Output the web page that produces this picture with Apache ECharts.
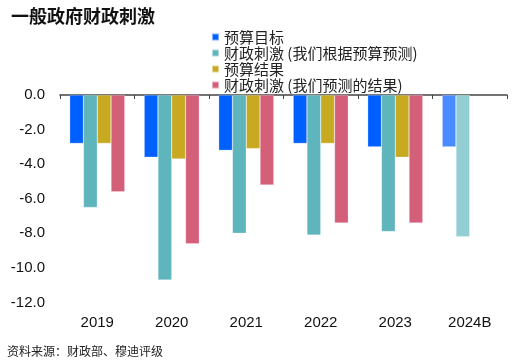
<!DOCTYPE html>
<html>
<head>
<meta charset="utf-8">
<script src="https://cdn.jsdelivr.net/npm/echarts@6/dist/echarts.min.js"></script>
<style>html,body{margin:0;padding:0;background:#fff}#c{width:515px;height:364px}</style>
</head>
<body>
<div id="c"></div>
<script>
const categories = ['2019', '2020', '2021', '2022', '2023', '2024B'];
const seriesNames = ['预算目标', '财政刺激 (我们根据预算预测)', '预算结果', '财政刺激 (我们预测的结果)'];
const budgetTarget = [-2.8, -3.6, -3.2, -2.8, -3.0, -3.0];
const stimulusBudget = [-6.5, -10.7, -8.0, -8.1, -7.9, -8.2];
const budgetOutcome = [-2.8, -3.7, -3.1, -2.8, -3.6, null];
const stimulusOutcome = [-5.6, -8.6, -5.2, -7.4, -7.4, null];
const yTicks = [0, -2, -4, -6, -8, -10, -12];

const colors = ['#0060ff', '#5eb5bc', '#c8a922', '#d35f78'];
const lastColors = ['#4a8cff', '#93cfd2', '#c8a922', '#d35f78'];
const values = [budgetTarget, stimulusBudget, budgetOutcome, stimulusOutcome];

const font = "'Liberation Sans', Arial, 'Noto Sans CJK SC', sans-serif";
const chart = echarts.init(document.getElementById('c'));
chart.setOption({
  animation: false,
  textStyle: { fontFamily: font },
  title: {
    text: '一般政府财政刺激',
    left: 6, top: 2,
    textStyle: { fontSize: 18, fontWeight: 'bold', color: '#111', fontFamily: "'Noto Sans CJK SC', sans-serif" }
  },
  graphic: [{
    type: 'text', left: 7, top: 345,
    style: { text: '资料来源：财政部、穆迪评级', font: "12px 'Noto Sans CJK SC', sans-serif", fill: '#222' }
  }],
  legend: {
    orient: 'vertical', left: 206, top: 24,
    itemWidth: 7, itemHeight: 7, itemGap: 0, itemTextGap: 4,
    icon: 'rect',
    textStyle: { fontSize: 15, lineHeight: 16, color: '#222', fontFamily: "'Noto Sans CJK SC', sans-serif" },
    data: seriesNames
  },
  grid: { left: 60, right: 8, top: 95, bottom: 61.5, containLabel: false },
  xAxis: [{
    type: 'category', data: categories, position: 'bottom',
    axisLine: { show: false }, axisTick: { show: false },
    axisLabel: { fontSize: 15, color: '#111', margin: 13 }
  }, {
    type: 'category', data: categories, position: 'top',
    axisLine: { show: true, onZero: false, lineStyle: { color: '#444', width: 1.5 } },
    axisTick: { show: true, inside: true, length: 4, lineStyle: { color: '#444' } },
    axisLabel: { show: false }
  }],
  yAxis: {
    type: 'value', min: yTicks[yTicks.length - 1], max: yTicks[0], interval: 2,
    axisLine: { show: false }, axisTick: { show: false }, splitLine: { show: false },
    axisLabel: { fontSize: 15, color: '#111', margin: 15, formatter: v => v.toFixed(1) }
  },
  series: seriesNames.map((name, i) => ({
    name, type: 'bar', xAxisIndex: 0,
    barGap: '0%', barCategoryGap: '26%',
    itemStyle: { color: colors[i], borderColor: 'rgba(255,255,255,0.5)', borderWidth: 0.5 },
    data: values[i].map((v, j) => j === categories.length - 1 && v !== null
      ? { value: v, itemStyle: { color: lastColors[i] } } : v)
  }))
});
</script>
</body>
</html>
